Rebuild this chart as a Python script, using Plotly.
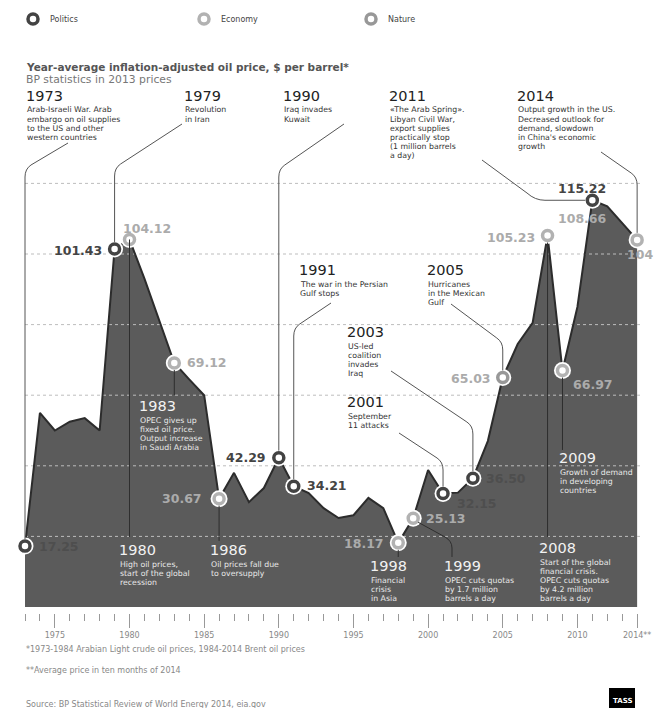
import plotly.graph_objects as go

# ---------------- data ----------------
years = list(range(1973, 2015))
prices = [17.25, 55.0, 50.0, 52.5, 53.5, 50.0, 101.43, 104.12, 93.0, 81.0,
          69.12, 64.5, 60.0, 30.67, 38.0, 29.7, 33.7, 42.29, 34.21, 32.3,
          28.0, 25.2, 26.0, 30.9, 28.0, 18.17, 25.13, 38.8, 32.15, 32.4,
          36.50, 47.0, 65.03, 74.5, 80.5, 105.23, 66.97, 85.0, 115.22, 113.5,
          108.66, 104.0]

event_years = [1973, 1979, 1980, 1983, 1986, 1990, 1991, 1998, 1999, 2001,
               2003, 2005, 2008, 2009, 2011, 2014]
event_cats = ["Politics", "Politics", "Economy", "Economy", "Economy", "Politics",
              "Politics", "Economy", "Economy", "Politics", "Politics", "Nature",
              "Economy", "Economy", "Politics", "Economy"]
categories = ["Politics", "Economy", "Nature"]
grid_values = [20, 40, 60, 80, 100, 120]
tick_years = [1975, 1980, 1985, 1990, 1995, 2000, 2005, 2010, 2014]
tick_labels = ["1975", "1980", "1985", "1990", "1995", "2000", "2005", "2010", "2014**"]

# ---------------- geometry ----------------
W, H = 654, 708
K = 14.93          # px per year
X0 = 25            # px of 1973
Y0 = 607           # px of value 0
S = 3.53           # px per dollar

def px(year):
    return X0 + (year - 1973) * K

def py(v):
    return Y0 - v * S

def xp(x):
    return x / W

def yp(y):
    return 1 - y / H

price_of = dict(zip(years, prices))
cat_color = {"Politics": "#434343", "Economy": "#b2b2b2", "Nature": "#989898"}
FONT = "DejaVu Sans"

fig = go.Figure()

# glow under line
fig.add_trace(go.Scatter(x=years, y=prices, mode="lines",
                         line=dict(color="white", width=6),
                         hoverinfo="skip", showlegend=False))
# area fill
fig.add_trace(go.Scatter(x=years, y=prices, mode="lines", fill="tozeroy",
                         fillcolor="#5b5b5b", line=dict(color="rgba(0,0,0,0)", width=0),
                         hoverinfo="skip", showlegend=False))
# grid lines
for g in grid_values:
    fig.add_trace(go.Scatter(x=[1973, 2014.3], y=[g, g], mode="lines",
                             line=dict(color="#bdbdbd", width=1, dash="dot"),
                             hoverinfo="skip", showlegend=False))
# price line
fig.add_trace(go.Scatter(x=years, y=prices, mode="lines",
                         line=dict(color="#2c2c2c", width=2),
                         hoverinfo="skip", showlegend=False))

# markers
ev_vals = [price_of[y] for y in event_years]
fig.add_trace(go.Scatter(x=event_years, y=ev_vals, mode="markers",
                         marker=dict(size=17, color="white", line=dict(width=0)),
                         hoverinfo="skip", showlegend=False))
for c in categories:
    xs = [y for y, k in zip(event_years, event_cats) if k == c]
    ys = [price_of[y] for y in xs]
    fig.add_trace(go.Scatter(x=xs, y=ys, mode="markers", name=c,
                             marker=dict(size=10, color="white",
                                         line=dict(color=cat_color[c], width=3.5)),
                             showlegend=False))

shapes = []
annotations = []

def path_shape(pts, color="#555555"):
    d = ""
    for cmd in pts:
        op = cmd[0]
        coords = cmd[1:]
        s = " ".join(f"{xp(coords[i]):.5f},{yp(coords[i+1]):.5f}" for i in range(0, len(coords), 2))
        d += f"{op} {s} "
    shapes.append(dict(type="path", path=d.strip(), xref="paper", yref="paper",
                       line=dict(color=color, width=1), layer="above"))

R = 7  # marker outer radius in px

def top_conn(x_start, y_start, year, y_knee_top, dx_dir=-1):
    mx = px(year)
    my = py(price_of[year])
    kx = mx - dx_dir * 6
    path_shape([("M", x_start, y_start), ("L", kx, y_knee_top),
                ("Q", mx, y_knee_top + 4, mx, y_knee_top + 12),
                ("L", mx, my - R)])

top_conn(68, 143, 1973, 165)
top_conn(182, 124, 1979, 164)
top_conn(344, 124, 1990, 165)
top_conn(331, 303, 1991, 324)
top_conn(451, 304, 2005, 338, dx_dir=1)
top_conn(391, 371, 2003, 422, dx_dir=1)
top_conn(399, 433, 2001, 458, dx_dir=1)
top_conn(601, 152, 2014, 173, dx_dir=1)

m11x, m11y = px(2011), py(price_of[2011])
path_shape([("M", 482, 160), ("L", 527, 193), ("Q", 535, m11y, 545, m11y),
            ("L", m11x - R, m11y)])

def bottom_vert(year, y_end, from_marker=True):
    mx = px(year)
    my = py(price_of[year]) + (R if from_marker else 0)
    path_shape([("M", mx, my), ("L", mx, y_end)], color="#2e2e2e")

bottom_vert(1980, 537, from_marker=False)
bottom_vert(1983, 395)
bottom_vert(1986, 541)
bottom_vert(1998, 557)
bottom_vert(2008, 537)
bottom_vert(2009, 450)
m99x, m99y = px(1999), py(price_of[1999])
path_shape([("M", m99x + 5, m99y + 4), ("L", 445, 537), ("Q", 452, 541, 452, 548),
            ("L", 452, 557)], color="#2e2e2e")

# ---------------- texts ----------------
def txt(s, x, y, size=8, color="#333", bold=False, xa="left", ya="middle"):
    if bold:
        s = f"<b>{s}</b>"
    annotations.append(dict(text=s, x=xp(x), y=yp(y), xref="paper", yref="paper",
                            xanchor=xa, yanchor=ya, align="left", showarrow=False,
                            font=dict(family=FONT, size=size, color=color)))

# legend
leg_x = [33, 204, 371]
for c, lx in zip(categories, leg_x):
    r = 5
    shapes.append(dict(type="circle", xref="paper", yref="paper",
                       x0=xp(lx - r), x1=xp(lx + r), y0=yp(19 + r), y1=yp(19 - r),
                       line=dict(color=cat_color[c], width=3.5), fillcolor="white"))
    txt(c, lx + 15, 19, size=8, color="#444")

# title
txt("Year-average inflation-adjusted oil price, $ per barrel*", 24, 67, size=10.5,
    color="#555", bold=True)
txt("BP statistics in 2013 prices", 24, 80, size=10.8, color="#777")

DARK_H, DARK_D = "#222", "#333"
LIGHT_H, LIGHT_D = "#f2f2f2", "#e8e8e8"
events_text = [
    ("1973", 25, 96, ["Arab-Israeli War. Arab", "embargo on oil supplies", "to the US and other", "western countries"], DARK_H, DARK_D),
    ("1979", 183, 96, ["Revolution", "in Iran"], DARK_H, DARK_D),
    ("1990", 282, 96, ["Iraq invades", "Kuwait"], DARK_H, DARK_D),
    ("2011", 388, 96, ["«The Arab Spring».", "Libyan Civil War,", "export supplies", "practically stop", "(1 million barrels", "a day)"], DARK_H, DARK_D),
    ("2014", 516, 96, ["Output growth in the US.", "Decreased outlook for", "demand, slowdown", "in China's economic", "growth"], DARK_H, DARK_D),
    ("1991", 298, 270, ["The war in the Persian", "Gulf stops"], DARK_H, DARK_D),
    ("2005", 426, 270, ["Hurricanes", "in the Mexican", "Gulf"], DARK_H, DARK_D),
    ("2003", 346, 332, ["US-led", "coalition", "invades", "Iraq"], DARK_H, DARK_D),
    ("2001", 346, 402, ["September", "11 attacks"], DARK_H, DARK_D),
    ("1983", 138, 406, ["OPEC gives up", "fixed oil price.", "Output increase", "in Saudi Arabia"], LIGHT_H, LIGHT_D),
    ("2009", 558, 458, ["Growth of demand", "in developing", "countries"], LIGHT_H, LIGHT_D),
    ("1980", 118, 550, ["High oil prices,", "start of the global", "recession"], LIGHT_H, LIGHT_D),
    ("1986", 209, 550, ["Oil prices fall due", "to oversupply"], LIGHT_H, LIGHT_D),
    ("1998", 369, 566, ["Financial", "crisis", "in Asia"], LIGHT_H, LIGHT_D),
    ("1999", 443, 566, ["OPEC cuts quotas", "by 1.7 million", "barrels a day"], LIGHT_H, LIGHT_D),
    ("2008", 538, 548, ["Start of the global", "financial crisis.", "OPEC cuts quotas", "by 4.2 million", "barrels a day"], LIGHT_H, LIGHT_D),
]
LS = 9.1
for yr, x, y, lines, hc, dc in events_text:
    txt(yr, x - 1, y, size=14.5, color=hc)
    for i, line in enumerate(lines):
        txt(line, x, y + 14 + i * LS, size=7.8, color=dc)

# value labels
val_labels = [
    (1973, 37, 546, "left", "#4e4e4e"),
    (1979, 104, 250, "right", "#444"),
    (1980, 121, 228, "left", "#ababab"),
    (1983, 185, 362, "left", "#ababab"),
    (1986, 204, 498, "right", "#ababab"),
    (1990, 268, 457, "right", "#444"),
    (1991, 305, 486, "left", "#444"),
    (1998, 386, 543, "right", "#ababab"),
    (1999, 424, 518, "left", "#ababab"),
    (2001, 455, 503, "left", "#4e4e4e"),
    (2003, 484, 478, "left", "#4e4e4e"),
    (2005, 493, 378, "right", "#ababab"),
    (2008, 537, 237, "right", "#ababab"),
    (2009, 571, 384, "left", "#ababab"),
    (2011, 556, 188, "left", "#444"),
    (2013, 556, 218, "left", "#ababab"),
    (2014, 625, 254, "left", "#ababab"),
]
for yr, x, y, xa, col in val_labels:
    v = price_of[yr]
    s = f"{v:.2f}" if yr != 2014 else f"{v:.0f}"
    txt(s, x, y, size=12.5, color=col, bold=True, xa=xa)

# footnotes
txt("*1973-1984 Arabian Light crude oil prices, 1984-2014 Brent oil prices", 24, 649, size=8, color="#888")
txt("**Average price in ten months of 2014", 24, 670, size=8, color="#888")
txt("Source: BP Statistical Review of World Energy 2014, eia.gov", 24, 704, size=8, color="#888")

# TASS logo
shapes.append(dict(type="rect", xref="paper", yref="paper", x0=xp(609), x1=xp(635),
                   y0=yp(708), y1=yp(688), fillcolor="black", line=dict(width=0)))
txt("TASS", 622, 701, size=7, color="white", bold=True, xa="center")

fig.update_layout(
    width=W, height=H,
    margin=dict(l=0, r=0, t=0, b=0),
    paper_bgcolor="white", plot_bgcolor="white",
    shapes=shapes, annotations=annotations,
    showlegend=False,
    xaxis=dict(range=[1973 - X0 / K, 1973 + (W - X0) / K], showgrid=False, zeroline=False,
               showline=False, anchor="free", position=(H - 613) / H,
               tickmode="array", tickvals=tick_years, ticktext=tick_labels,
               ticks="outside", ticklen=14, tickwidth=1, tickcolor="#999",
               tickfont=dict(family=FONT, size=8, color="#888"),
               minor=dict(tickmode="array", tickvals=years, ticks="outside",
                          ticklen=7, tickwidth=1, tickcolor="#999"),
               fixedrange=True),
    yaxis=dict(range=[-(H - Y0) / S, Y0 / S], visible=False, fixedrange=True),
)

fig.write_html("out.html", config={"displayModeBar": False},
               post_script="document.body.style.margin='0';")
